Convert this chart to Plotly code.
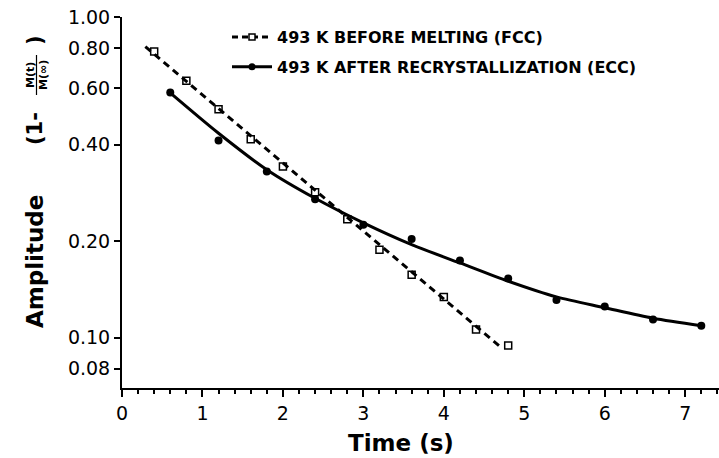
import plotly.graph_objects as go

# ---- data ----
fcc_t = [0.4, 0.8, 1.2, 1.6, 2.0, 2.4, 2.8, 3.2, 3.6, 4.0, 4.4, 4.8]
fcc_v = [0.78, 0.633, 0.516, 0.416, 0.342, 0.284, 0.234, 0.188, 0.157, 0.134, 0.106, 0.0946]
fcc_fit_t = [0.29, 4.73]
fcc_fit_v = [0.808, 0.0924]

ecc_t = [0.6, 1.2, 1.8, 2.4, 3.0, 3.6, 4.2, 4.8, 5.4, 6.0, 6.6, 7.2]
ecc_v = [0.581, 0.412, 0.330, 0.270, 0.225, 0.203, 0.174, 0.153, 0.131, 0.125, 0.114, 0.109]
ecc_fit_t = [0.6, 1.2, 1.8, 2.4, 3.0, 3.6, 4.2, 4.8, 5.4, 6.0, 6.6, 7.2]
ecc_fit_v = [0.58, 0.434, 0.334, 0.272, 0.228, 0.195, 0.171, 0.150, 0.134, 0.124, 0.115, 0.109]

y_tickvals = [0.08, 0.1, 0.2, 0.4, 0.6, 0.8, 1.0]
y_ticktext = ["0.08", "0.10", "0.20", "0.40", "0.60", "0.80", "1.00"]
x_tickvals = [0, 1, 2, 3, 4, 5, 6, 7]

name_fcc = "493 K BEFORE MELTING (FCC)"
name_ecc = "493 K AFTER RECRYSTALLIZATION (ECC)"

W, H = 719, 458
L, R, T, B = 122, 0, 17, 70
PW, PH = W - L - R, H - T - B

def px(xp):
    return (xp - L) / PW

def py(yp):
    return 1 - (yp - T) / PH

FONT = "DejaVu Sans"
BOLD = "DejaVu Sans"

fig = go.Figure()

fig.add_trace(go.Scatter(x=fcc_fit_t, y=fcc_fit_v, mode="lines",
                         line=dict(color="black", width=3, dash="7px,5px"),
                         showlegend=False, hoverinfo="skip"))
fig.add_trace(go.Scatter(x=ecc_fit_t, y=ecc_fit_v, mode="lines",
                         line=dict(color="black", width=3, shape="spline", smoothing=0.8),
                         showlegend=False, hoverinfo="skip"))
fig.add_trace(go.Scatter(x=fcc_t, y=fcc_v, mode="markers",
                         marker=dict(symbol="square-open", size=7, color="black",
                                     line=dict(width=1.5, color="black")),
                         showlegend=False))
fig.add_trace(go.Scatter(x=ecc_t, y=ecc_v, mode="markers",
                         marker=dict(symbol="circle", size=8, color="black"),
                         showlegend=False))

# legend entries
fig.add_trace(go.Scatter(x=[None], y=[None], mode="lines+markers", name=name_fcc,
                         legendgroup="a",
                         line=dict(color="black", width=3, dash="6px,4px"),
                         marker=dict(symbol="square", size=6, color="white",
                                     line=dict(width=1.5, color="black"))))
fig.add_trace(go.Scatter(x=[None], y=[None], mode="lines+markers", name=name_ecc,
                         legendgroup="b",
                         line=dict(color="black", width=3),
                         marker=dict(symbol="circle", size=7, color="black")))

def ann(text, x, y, size, angle=0):
    return dict(text=text, x=px(x), y=py(y), xref="paper", yref="paper",
                xanchor="center", yanchor="middle", showarrow=False,
                textangle=angle,
                font=dict(family=BOLD, size=size, color="black", weight="bold"))

annotations = [
    ann("Time (s)", 401, 443, 23),
    ann("Amplitude", 35, 262, 23, -90),
    ann("(1-", 35, 129, 21, -90),
    ann("M(t)", 30, 75, 11, -90),
    ann("M(∞)", 43, 75, 11, -90),
    ann(")", 35, 40, 21, -90),
]

shapes = [
    dict(type="line", xref="paper", yref="paper",
         x0=px(36.5), x1=px(36.5), y0=py(55), y1=py(95),
         line=dict(color="black", width=1.2)),
]

fig.update_layout(
    width=W, height=H,
    margin=dict(l=L, r=R, t=T, b=B),
    paper_bgcolor="white", plot_bgcolor="white",
    font=dict(family=FONT, color="black"),
    showlegend=True,
    legend=dict(x=px(227), y=py(20), xanchor="left", yanchor="top",
                bgcolor="rgba(0,0,0,0)", borderwidth=0,
                font=dict(family=BOLD, size=16, color="black", weight="bold"),
                traceorder="grouped", tracegroupgap=6, itemwidth=40),
    annotations=annotations,
    shapes=shapes,
    xaxis=dict(range=[0, 7.42], showline=True, linecolor="black", linewidth=2,
               ticks="outside", ticklen=7, tickwidth=1.5, tickcolor="black",
               tickvals=x_tickvals, showgrid=False, zeroline=False,
               tickfont=dict(family=FONT, size=19, color="black"),
               minor=dict(ticks="outside", ticklen=4, tickwidth=1.5,
                          tickcolor="black", dtick=0.2, showgrid=False)),
    yaxis=dict(type="log", range=[-1.157, 0.0], showline=True, linecolor="black",
               linewidth=2, ticks="outside", ticklen=6, tickwidth=1.5,
               tickcolor="black", tickvals=y_tickvals, ticktext=y_ticktext,
               showgrid=False, zeroline=False,
               tickfont=dict(family=FONT, size=19, color="black")),
)

fig.write_html("out.html",
               config={"displayModeBar": False},
               post_script="document.body.style.margin='0';document.body.style.padding='0';"
                           "document.body.style.overflow='hidden';")
